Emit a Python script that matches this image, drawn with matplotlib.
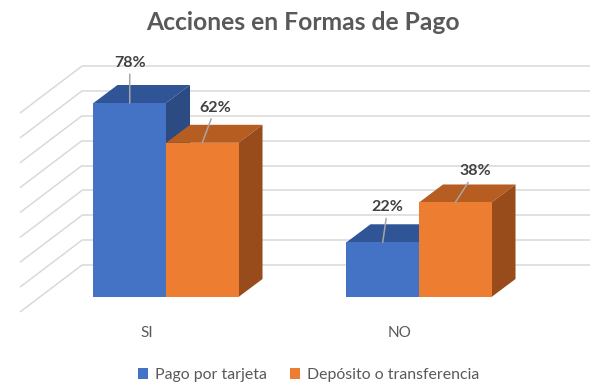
import matplotlib
matplotlib.use("Agg")
import matplotlib.pyplot as plt
from matplotlib.patches import Polygon
import numpy as np

# ---- data ----
categories = ["SI", "NO"]
series_names = ["Pago por tarjeta", "Depósito o transferencia"]
pago_tarjeta = [0.78, 0.22]
deposito = [0.62, 0.38]
grid_values = [0.0, 0.1, 0.2, 0.3, 0.4, 0.5, 0.6, 0.7, 0.8]
title = "Acciones en Formas de Pago"

# ---- style ----
front_colors = ["#4472C4", "#ED7D31"]
top_colors = ["#2F5597", "#B65D22"]
side_colors = ["#2C4B82", "#984C1B"]
grid_color = "#D9D9D9"
text_color = "#595959"
label_color = "#404040"
font = "Lato"

W, H = 604, 392
fig = plt.figure(figsize=(W / 100, H / 100), dpi=100)
ax = fig.add_axes([0, 0, 1, 1])
ax.set_xlim(-0.6561, 1.7312)
ax.set_ylim(-0.3820, 1.1942)
ax.axis("off")

bar_w = 0.2866
ddx, ddy = 0.0949, 0.0724          # bar depth
wall_dx, wall_dy = 0.1687, 0.1287  # back wall offset
wall_x0, wall_x1 = -0.332, 1.676   # back wall extent (back-plane coords)
side_dx, side_dy = -0.245, -0.189  # side wall depth

# back wall and side wall gridlines
for v in grid_values:
    yb = v + wall_dy
    ax.plot([wall_x0, wall_x1], [yb, yb], color=grid_color, lw=1.1, zorder=1,
            solid_capstyle="butt")
    ax.plot([wall_x0, wall_x0 + side_dx], [yb, yb + side_dy], color=grid_color,
            lw=1.1, zorder=1, solid_capstyle="butt")

x = np.arange(len(categories))
all_series = [pago_tarjeta, deposito]
offsets = [-bar_w / 2, bar_w / 2]
label_offsets = [[(0, 40), (5, 35)], [(13, 35), (20, 31)]]  # pixels

for si, (vals, off) in enumerate(zip(all_series, offsets)):
    z = 2 + si
    bars = ax.bar(x + off, vals, width=bar_w, color=front_colors[si],
                  label=series_names[si], zorder=z + 0.5, linewidth=0)
    for bi, (b, v) in enumerate(zip(bars, vals)):
        x0 = b.get_x()
        x1 = x0 + b.get_width()
        top = Polygon([(x0, v), (x1, v), (x1 + ddx, v + ddy), (x0 + ddx, v + ddy)],
                      closed=True, facecolor=top_colors[si], edgecolor="none", zorder=z)
        side = Polygon([(x1, 0), (x1, v), (x1 + ddx, v + ddy), (x1 + ddx, ddy)],
                       closed=True, facecolor=side_colors[si], edgecolor="none", zorder=z)
        ax.add_patch(top)
        ax.add_patch(side)
        ax.annotate(f"{round(v * 100)}%", xy=(x0 + bar_w / 2, v),
                    xytext=label_offsets[si][bi], textcoords="offset pixels",
                    ha="center", va="center", fontsize=11.5, fontweight="bold",
                    family=font, color=label_color, zorder=10,
                    arrowprops=dict(arrowstyle="-", color="#A6A6A6", lw=1.1,
                                    shrinkA=1, shrinkB=0))

# category labels
for xi, c in zip(x, categories):
    ax.text(xi - 0.075, -0.145, c, ha="center", va="center", fontsize=11,
            family=font, color=text_color)

fig.text(0.5017, 1 - 22 / H, title, ha="center", va="center", fontsize=17.7,
         fontweight="bold", family=font, color=text_color)

leg = ax.legend(loc="center", bbox_to_anchor=(308.5 / W, 1 - 375 / H),
                bbox_transform=fig.transFigure, ncol=2, frameon=False,
                handlelength=0.65, handleheight=0.65, handletextpad=0.4,
                columnspacing=1.5, prop={"family": font, "size": 11.4})
for t in leg.get_texts():
    t.set_color(text_color)

fig.savefig("out.png", dpi=100)
